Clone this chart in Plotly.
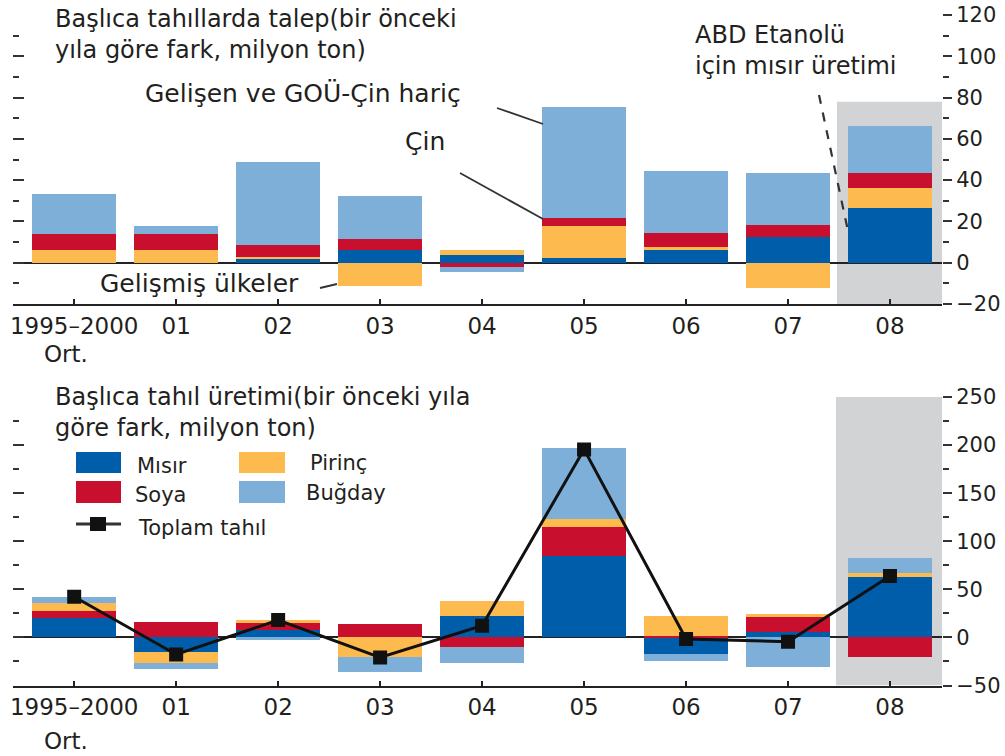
import plotly.graph_objects as go

# ---------------- data ----------------
categories = ["1995–2000", "01", "02", "03", "04", "05", "06", "07", "08"]

# Top panel: demand change (million tons)
us_ethanol_corn = [0.0, 0.0, 1.8, 6.4, 3.8, 2.4, 6.4, 12.5, 26.5]
advanced = [6.4, 6.4, 1.1, -11.2, 2.4, 15.4, 1.3, -12.4, 9.8]
china = [7.4, 7.4, 5.6, 5.1, -2.0, 3.9, 6.7, 5.9, 7.1]
emerging_ex_china = [19.6, 3.9, 40.2, 20.9, -2.5, 53.8, 30.2, 24.9, 23.0]

# Bottom panel: production change (million tons)
corn = [19.8, -15.6, 7.6, 0.0, 22.2, 84.9, -17.7, 5.5, 62.4]
soy = [7.6, 16.3, 7.6, 13.9, -9.7, 30.2, 1.5, 16.6, -20.8]
rice = [8.0, -11.4, 2.8, -20.8, 15.6, 8.3, 20.7, 2.0, 4.2]
wheat = [6.9, -5.9, -3.0, -14.9, -17.3, 73.1, -6.6, -31.2, 16.3]
total_grain = [42.3, -17.7, 18.0, -20.8, 12.1, 195.5, -1.7, -4.5, 63.8]

# ---------------- style ----------------
DBLUE = "#005DAA"
RED = "#C8102E"
YELLOW = "#FDBB4F"
LBLUE = "#7DAFD8"
GREY = "#D2D3D5"
TXT = "#231F20"
FONT = "DejaVu Sans"

W, H = 1005, 756
ML, MR = 13, 63
PW = W - ML - MR


def X(px):
    return (px - ML) / PW


def Y(py):
    return 1 - py / H


BW = 0.82
fig = go.Figure()

for vals, col in [(us_ethanol_corn, DBLUE), (advanced, YELLOW), (china, RED), (emerging_ex_china, LBLUE)]:
    fig.add_trace(go.Bar(x=categories, y=vals, marker=dict(color=col, line=dict(width=0)),
                         width=BW, xaxis="x", yaxis="y", showlegend=False))

for vals, col in [(corn, DBLUE), (soy, RED), (rice, YELLOW), (wheat, LBLUE)]:
    fig.add_trace(go.Bar(x=categories, y=vals, marker=dict(color=col, line=dict(width=0)),
                         width=BW, xaxis="x2", yaxis="y2", showlegend=False))

fig.add_trace(go.Scatter(x=categories, y=total_grain, mode="lines+markers",
                         line=dict(color="#111111", width=3),
                         marker=dict(symbol="square", size=14, color="#111111"),
                         xaxis="x2", yaxis="y2", showlegend=False))

xr = [-0.6, 8.51]
top_dom = [Y(304), Y(15)]
bot_dom = [Y(685.5), Y(397)]

xcommon = dict(range=xr, showline=True, linecolor="#222", linewidth=2, ticks="inside",
               ticklen=5, tickcolor="#222", tickwidth=2, showgrid=False, zeroline=False,
               tickfont=dict(family=FONT, size=23, color=TXT), type="category",
               automargin=False)

ycommon = dict(showgrid=False, ticks="outside", ticklen=9, tickwidth=1.5, tickcolor="#333",
               tickfont=dict(family=FONT, size=21, color=TXT), showline=False,
               zeroline=True, zerolinecolor="#222", zerolinewidth=1.5, layer="above traces",
               automargin=False)

fig.update_layout(
    width=W, height=H,
    margin=dict(l=ML, r=MR, t=0, b=0, autoexpand=False),
    paper_bgcolor="white", plot_bgcolor="rgba(0,0,0,0)",
    barmode="relative", bargap=0,
    font=dict(family=FONT, color=TXT),
    xaxis=dict(anchor="y", **xcommon),
    xaxis2=dict(anchor="y2", **xcommon),
    yaxis=dict(domain=top_dom, range=[-20, 120], side="right", anchor="x", dtick=20,
               minor=dict(dtick=10, ticks="outside", ticklen=6, tickcolor="#333", tickwidth=1.5),
               **ycommon),
    yaxis2=dict(domain=bot_dom, range=[-50, 250], side="right", anchor="x2", dtick=50,
                minor=dict(dtick=25, ticks="outside", ticklen=6, tickcolor="#333", tickwidth=1.5),
                **ycommon),
    yaxis3=dict(domain=top_dom, range=[-20, 120], overlaying="y", side="left", anchor="x",
                dtick=20, ticks="inside", ticklen=11, tickwidth=1.5, tickcolor="#333",
                showticklabels=False, showgrid=False, zeroline=False, showline=False,
                automargin=False,
                minor=dict(dtick=10, ticks="inside", ticklen=6, tickcolor="#333", tickwidth=1.5)),
    yaxis4=dict(domain=bot_dom, range=[-50, 250], overlaying="y2", side="left", anchor="x2",
                dtick=50, ticks="inside", ticklen=11, tickwidth=1.5, tickcolor="#333",
                showticklabels=False, showgrid=False, zeroline=False, showline=False,
                automargin=False,
                minor=dict(dtick=25, ticks="inside", ticklen=6, tickcolor="#333", tickwidth=1.5)),
)

# dummy traces to activate overlay axes
fig.add_trace(go.Scatter(x=[categories[0]], y=[None], xaxis="x", yaxis="y3", showlegend=False,
                         hoverinfo="skip"))
fig.add_trace(go.Scatter(x=[categories[0]], y=[None], xaxis="x2", yaxis="y4", showlegend=False,
                         hoverinfo="skip"))

shapes = []
# grey forecast shading
shapes.append(dict(type="rect", xref="x", yref="y", x0=7.48, x1=8.51, y0=-20, y1=78,
                   fillcolor=GREY, line=dict(width=0), layer="below"))
shapes.append(dict(type="rect", xref="x2", yref="y2", x0=7.47, x1=8.51, y0=-50, y1=250,
                   fillcolor=GREY, line=dict(width=0), layer="below"))


def seg(x0, y0, x1, y1, dash="solid", w=1.8):
    return dict(type="line", xref="paper", yref="paper", x0=X(x0), y0=Y(y0), x1=X(x1), y1=Y(y1),
                line=dict(color="#333", width=w, dash=dash))


# leader lines (top panel)
shapes.append(seg(497, 108, 543, 124))
shapes.append(seg(460, 173, 543, 219))
shapes.append(seg(320, 288, 337, 284))
shapes.append(seg(819, 95, 848, 231, dash="dash", w=2.2))


def box(x0, y0, x1, y1, col):
    return dict(type="rect", xref="paper", yref="paper", x0=X(x0), x1=X(x1), y0=Y(y1), y1=Y(y0),
                fillcolor=col, line=dict(width=0))


# manual legend (bottom panel)
shapes.append(box(76, 452, 121, 473, DBLUE))
shapes.append(box(76, 481, 121, 503, RED))
shapes.append(box(239, 452, 285, 473, YELLOW))
shapes.append(box(239, 481, 285, 503, LBLUE))
shapes.append(seg(76, 524, 121, 524, w=3))
shapes.append(dict(type="rect", xref="paper", yref="paper", x0=X(90), x1=X(106), y0=Y(531), y1=Y(517),
                   fillcolor="#111111", line=dict(width=0)))

fig.update_layout(shapes=shapes)

annots = []


def txt(s, x, y, size=24, anchor="left"):
    annots.append(dict(text=s, xref="paper", yref="paper", x=X(x), y=Y(y), xanchor=anchor,
                       yanchor="middle", showarrow=False, align="left",
                       font=dict(family=FONT, size=size, color=TXT)))


# top panel texts
txt("Başlıca tahıllarda talep(bir önceki<br>yıla göre fark, milyon ton)", 53, 35)
txt("Gelişen ve GOÜ-Çin hariç", 143, 94, size=25)
txt("Çin", 403, 142, size=25)
txt("Gelişmiş ülkeler", 98, 283, size=25)
txt("ABD Etanolü<br>için mısır üretimi", 693, 51)
txt("Ort.", 42, 354, size=23)

# bottom panel texts
txt("Başlıca tahıl üretimi(bir önceki yıla<br>göre fark, milyon ton)", 53, 412)
txt("Mısır", 135, 466, size=21)
txt("Soya", 133, 495, size=21)
txt("Pirinç", 308, 463, size=21)
txt("Buğday", 304, 493, size=21)
txt("Toplam tahıl", 136, 528, size=21)
txt("Ort.", 42, 741, size=23)

fig.update_layout(annotations=annots)

fig.write_html("out.html", config={"displayModeBar": False},
               post_script="document.body.style.margin='0px';")
